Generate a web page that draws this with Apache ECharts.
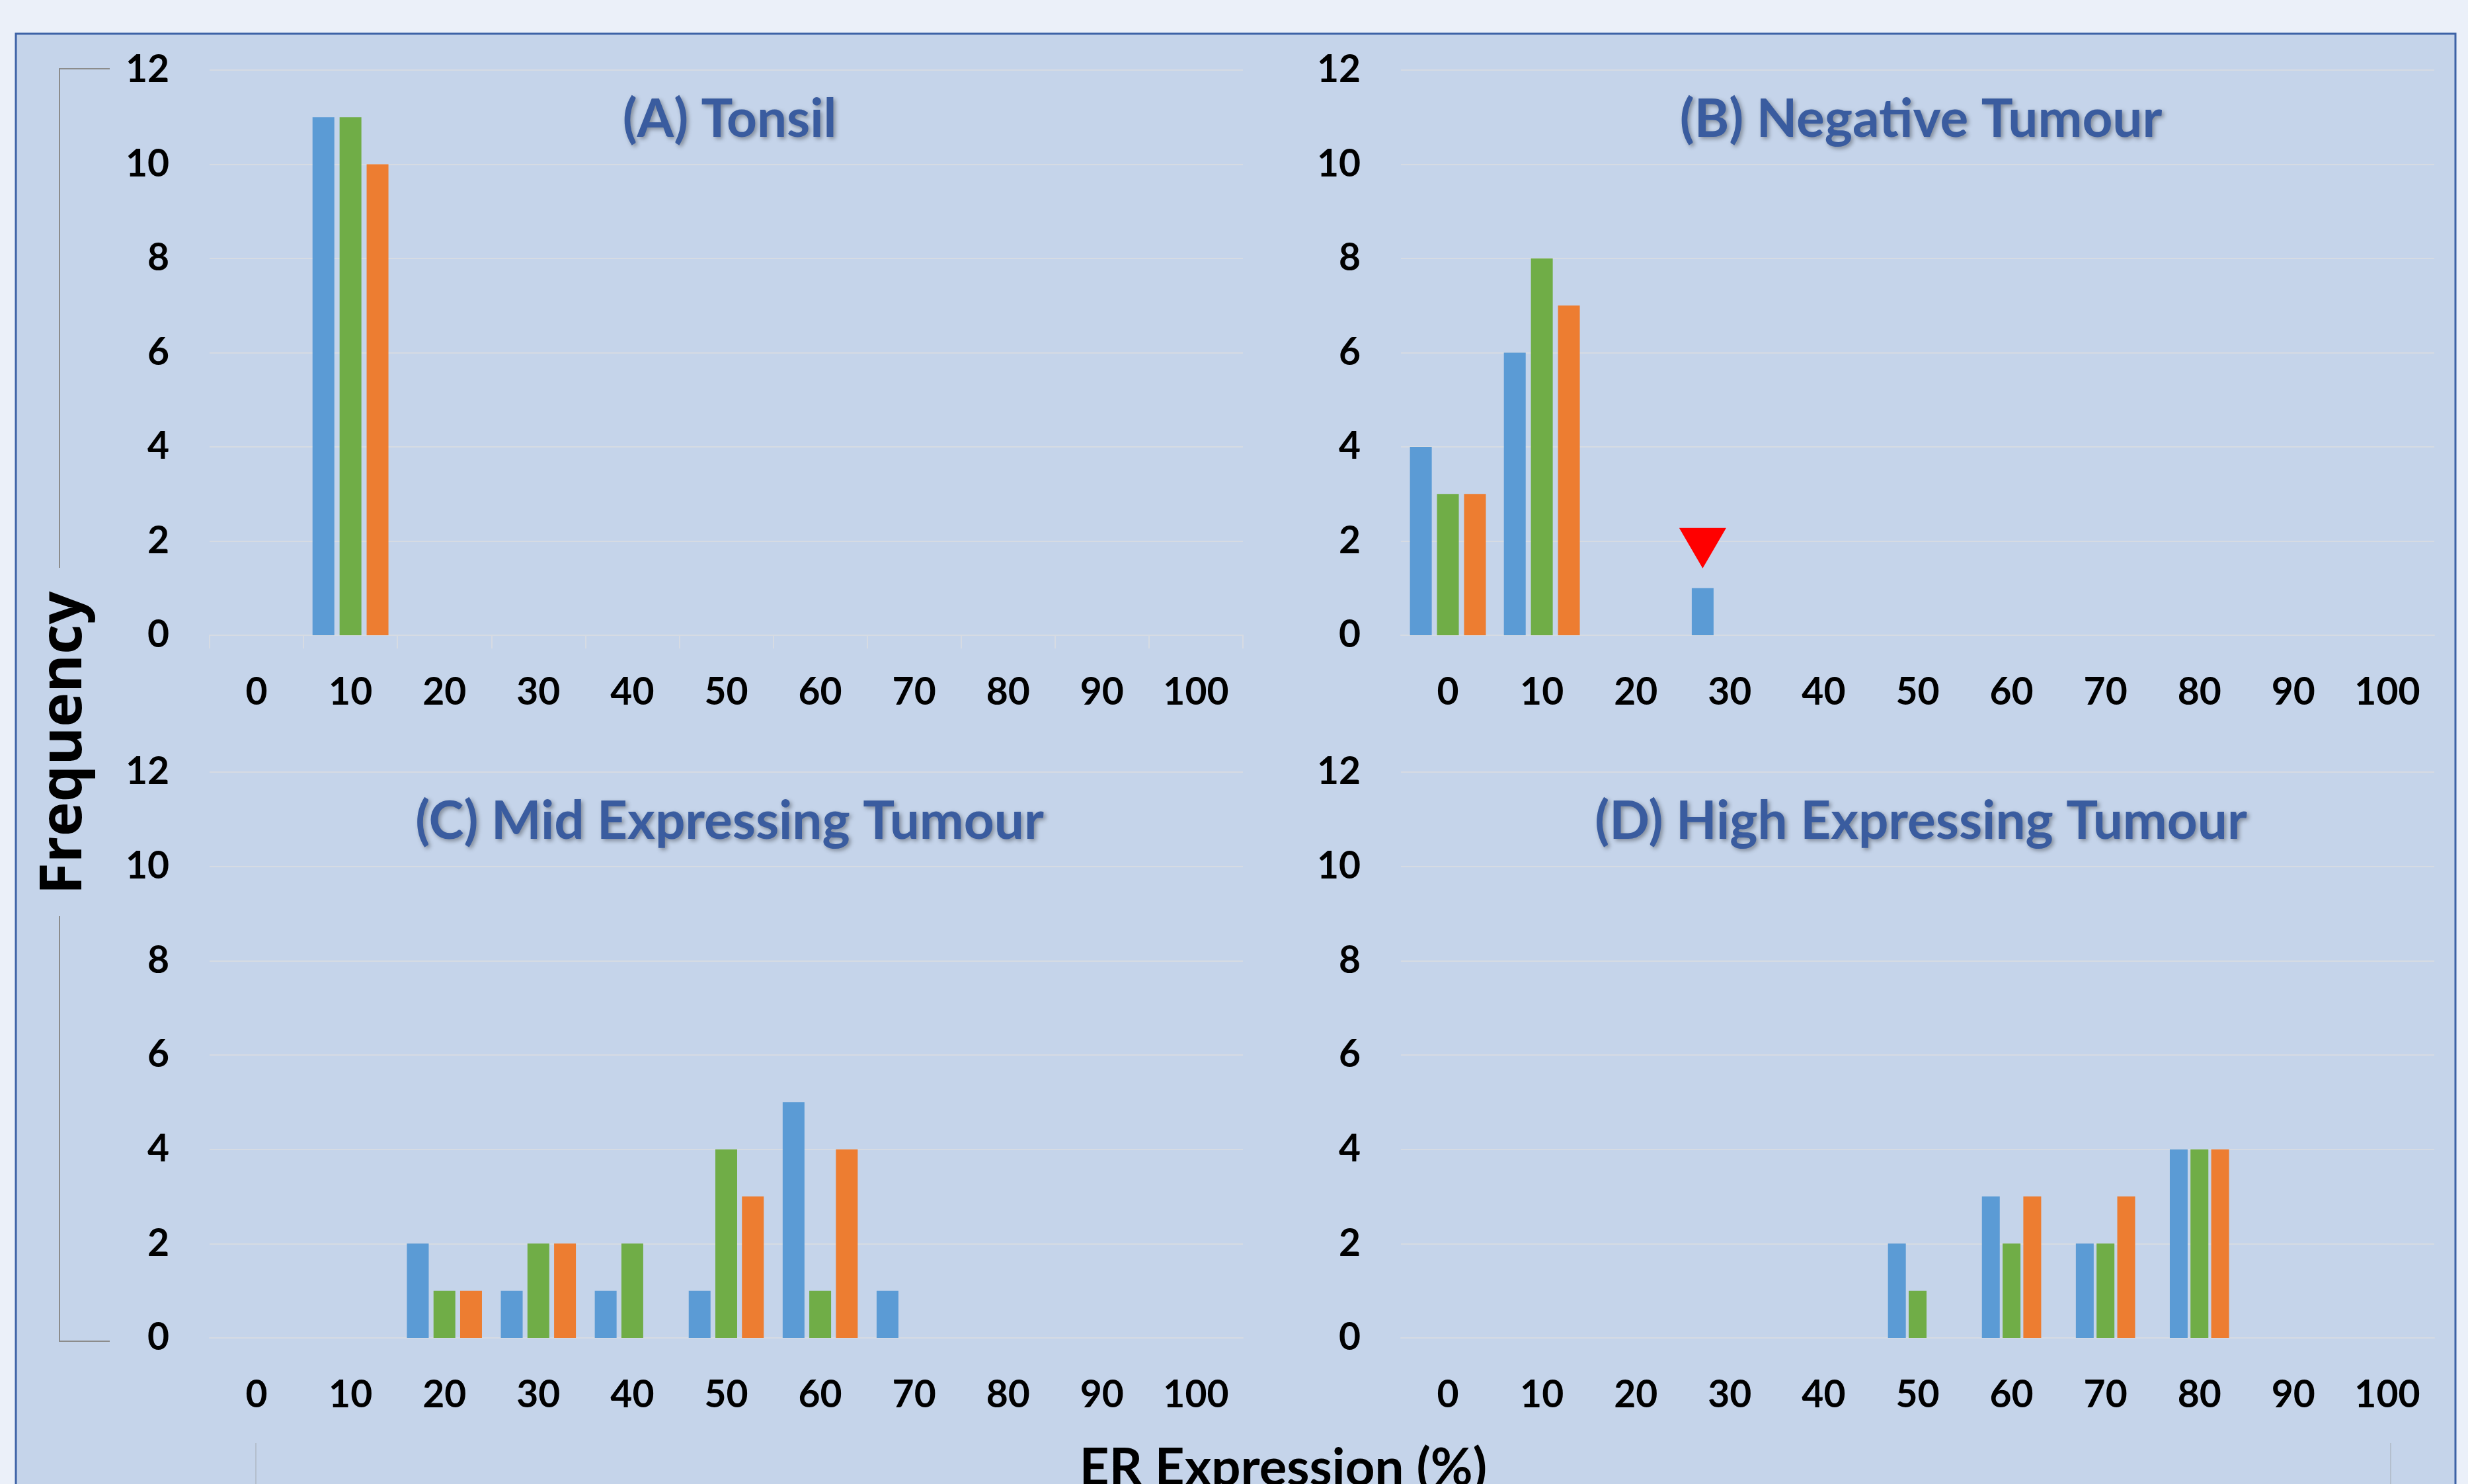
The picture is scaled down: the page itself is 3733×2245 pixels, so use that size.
<!DOCTYPE html>
<html>
<head>
<meta charset="utf-8">
<script src="https://cdn.jsdelivr.net/npm/echarts@6/dist/echarts.min.js"></script>
<style>
  html, body { margin: 0; padding: 0; background: #ebf0f9; }
  #chart { width: 3733px; height: 2245px; }
</style>
</head>
<body>
<div id="chart"></div>
<script>
// ---------- DATA ----------
const categories = ['0', '10', '20', '30', '40', '50', '60', '70', '80', '90', '100'];
const yTicks = { min: 0, max: 12, interval: 2 };
const seriesNames = ['Series 1', 'Series 2', 'Series 3'];
const seriesColors = ['#5b9bd5', '#70ad47', '#ed7d31'];

const panelTitles = ['(A) Tonsil', '(B) Negative Tumour', '(C) Mid Expressing Tumour', '(D) High Expressing Tumour'];

// (A) Tonsil
const tonsilS1 = [0, 11, 0, 0, 0, 0, 0, 0, 0, 0, 0];
const tonsilS2 = [0, 11, 0, 0, 0, 0, 0, 0, 0, 0, 0];
const tonsilS3 = [0, 10, 0, 0, 0, 0, 0, 0, 0, 0, 0];
// (B) Negative Tumour
const negativeS1 = [4, 6, 0, 1, 0, 0, 0, 0, 0, 0, 0];
const negativeS2 = [3, 8, 0, 0, 0, 0, 0, 0, 0, 0, 0];
const negativeS3 = [3, 7, 0, 0, 0, 0, 0, 0, 0, 0, 0];
// (C) Mid Expressing Tumour
const midS1 = [0, 0, 2, 1, 1, 1, 5, 1, 0, 0, 0];
const midS2 = [0, 0, 1, 2, 2, 4, 1, 0, 0, 0, 0];
const midS3 = [0, 0, 1, 2, 0, 3, 4, 0, 0, 0, 0];
// (D) High Expressing Tumour
const highS1 = [0, 0, 0, 0, 0, 2, 3, 2, 4, 0, 0];
const highS2 = [0, 0, 0, 0, 0, 1, 2, 2, 4, 0, 0];
const highS3 = [0, 0, 0, 0, 0, 0, 3, 3, 4, 0, 0];

// red arrow marker in panel B (points at the blue bar at 30)
const markerB = { category: '30', value: 1.85 };

const panelData = [
  [tonsilS1, tonsilS2, tonsilS3],
  [negativeS1, negativeS2, negativeS3],
  [midS1, midS2, midS3],
  [highS1, highS2, highS3]
];

// ---------- LAYOUT ----------
const grids = [
  { left: 317, top: 106, width: 1563, height: 855 },
  { left: 2119, top: 106, width: 1563, height: 855 },
  { left: 317, top: 1168, width: 1563, height: 856 },
  { left: 2119, top: 1168, width: 1563, height: 856 }
];
const barStyles = [
  { barWidth: 33, barGap: '24%' },
  { barWidth: 33, barGap: '24%' },
  { barWidth: 33, barGap: '22%' },
  { barWidth: 27, barGap: '16%' }
];
const gridLineColor = '#d6dbe3';
const labelFont = { fontFamily: 'Lato', fontWeight: 'bold', fontSize: 57, color: '#000000' };

const chart = echarts.init(document.getElementById('chart'), null, { renderer: 'canvas' });

const xAxes = grids.map((g, i) => ({
  type: 'category',
  gridIndex: i,
  data: categories,
  axisLine: { show: true, lineStyle: { color: gridLineColor, width: 2 } },
  axisTick: { show: i === 0, interval: 0, length: 20, lineStyle: { color: gridLineColor, width: 2 } },
  axisLabel: Object.assign({ interval: 0, margin: 58 }, labelFont),
  splitLine: { show: false }
}));

const yAxes = grids.map((g, i) => ({
  type: 'value',
  gridIndex: i,
  min: yTicks.min,
  max: yTicks.max,
  interval: yTicks.interval,
  axisLine: { show: false },
  axisTick: { show: false },
  axisLabel: Object.assign({ margin: 61 }, labelFont),
  splitLine: { show: true, lineStyle: { color: gridLineColor, width: 2 } }
}));

const series = [];
panelData.forEach((set, p) => {
  set.forEach((vals, s) => {
    const ser = {
      name: seriesNames[s],
      type: 'bar',
      xAxisIndex: p,
      yAxisIndex: p,
      data: vals,
      barWidth: barStyles[p].barWidth,
      barGap: barStyles[p].barGap,
      itemStyle: { color: seriesColors[s] },
      emphasis: { disabled: true }
    };
    if (p === 1 && s === 0) {
      ser.markPoint = {
        symbol: 'triangle',
        symbolRotate: 180,
        symbolSize: [71, 61],
        itemStyle: { color: '#ff0000' },
        label: { show: false },
        data: [{ coord: [markerB.category, markerB.value] }]
      };
    }
    series.push(ser);
  });
});

const titles = grids.map((g, i) => ({
  text: panelTitles[i],
  left: g.left + g.width / 2,
  top: g.top + 70,
  textAlign: 'center',
  textVerticalAlign: 'middle',
  textStyle: {
    fontFamily: 'Lato',
    fontWeight: 'bold',
    fontSize: 80,
    color: '#3a5c9f',
    textShadowColor: 'rgba(0,0,0,0.35)',
    textShadowBlur: 6,
    textShadowOffsetX: 3,
    textShadowOffsetY: 3
  }
}));

const bracketColor = '#8c8c8c';
const option = {
  backgroundColor: 'transparent',
  animation: false,
  title: titles,
  grid: grids,
  xAxis: xAxes,
  yAxis: yAxes,
  series: series,
  graphic: [
    { type: 'rect', z: -10, shape: { x: 24, y: 51, width: 3690, height: 2300 },
      style: { fill: '#c5d4ea', stroke: '#3d62a6', lineWidth: 3 } },
    { type: 'polyline', z: 5, shape: { points: [[166, 104], [90, 104], [90, 859]] },
      style: { stroke: bracketColor, lineWidth: 2, fill: null } },
    { type: 'polyline', z: 5, shape: { points: [[90, 1386], [90, 2029], [166, 2029]] },
      style: { stroke: bracketColor, lineWidth: 2, fill: null } },
    { type: 'line', z: 5, shape: { x1: 387, y1: 2183, x2: 387, y2: 2260 },
      style: { stroke: '#b4bfce', lineWidth: 2 } },
    { type: 'line', z: 5, shape: { x1: 3616, y1: 2183, x2: 3616, y2: 2260 },
      style: { stroke: '#b4bfce', lineWidth: 2 } },
    { type: 'text', z: 5, x: 98, y: 1124, rotation: Math.PI / 2,
      style: { text: 'Frequency', fontFamily: 'Open Sans', fontWeight: 'bold', fontSize: 88,
               fill: '#000000', align: 'center', verticalAlign: 'middle' } },
    { type: 'text', z: 5, x: 1941, y: 2222,
      style: { text: 'ER Expression (%)', fontFamily: 'Lato', fontWeight: 'bold', fontSize: 78,
               fill: '#000000', align: 'center', verticalAlign: 'middle' } }
  ]
};
chart.setOption(option);
</script>
</body>
</html>
